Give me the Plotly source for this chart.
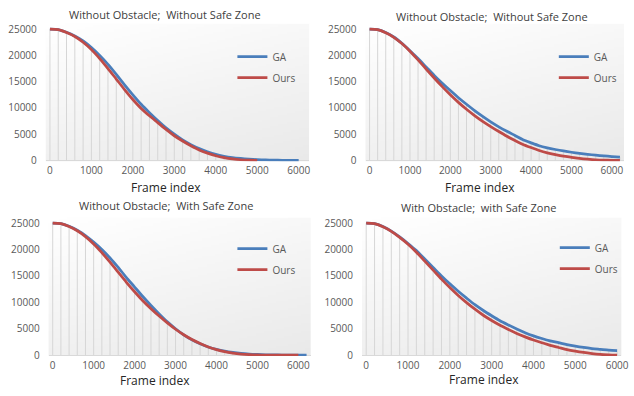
import base64, struct, zlib
import plotly.graph_objects as go

W, H = 634, 396

# ---------------- data ----------------
frames_6000 = list(range(0, 6001, 200))
frames_6200 = list(range(0, 6201, 200))
frames_5000 = list(range(0, 5001, 200))

titles = ["Without Obstacle;  Without Safe Zone",
          "Without Obstacle;  Without Safe Zone",
          "Without Obstacle;  With Safe Zone",
          "With Obstacle;  with Safe Zone"]
x_label = "Frame index"
series_names = ["GA", "Ours"]
x_ticks = [0, 1000, 2000, 3000, 4000, 5000, 6000]
y_ticks = [0, 5000, 10000, 15000, 20000, 25000]

# panel 1: top-left
p1_ga_x = frames_6000
p1_ga = [25000, 24900, 24400, 23700, 22750, 21500, 20000, 18300, 16400, 14400,
         12500, 10700, 9100, 7600, 6200, 5000, 3900, 3000, 2250, 1650,
         1150, 800, 550, 380, 250, 160, 100, 60, 30, 10, 0]
p1_ours_x = frames_5000
p1_ours = [25000, 24900, 24350, 23600, 22500, 21100, 19400, 17500, 15500, 13500,
           11600, 9900, 8500, 7200, 5900, 4700, 3700, 2800, 2000, 1400,
           900, 550, 300, 130, 40, 0]

# panel 2: top-right
p2_ga_x = frames_6200
p2_ga = [25000, 24900, 24350, 23500, 22300, 20900, 19400, 17800, 16200, 14700,
         13300, 11950, 10700, 9500, 8400, 7350, 6400, 5550, 4750, 3950,
         3350, 2800, 2400, 2080, 1800, 1560, 1350, 1170, 1000, 860, 740, 620]
p2_ours_x = frames_6200
p2_ours = [25000, 24900, 24300, 23450, 22250, 20800, 19150, 17400, 15700, 14050,
           12500, 11050, 9750, 8550, 7450, 6450, 5500, 4600, 3800, 3050,
           2450, 1900, 1450, 1100, 800, 600, 400, 250, 130, 60, 20, 0]

# panel 3: bottom-left
p3_ga_x = frames_6200
p3_ga = [25000, 24900, 24400, 23650, 22650, 21400, 20000, 18400, 16600, 14700,
         12900, 11100, 9400, 7800, 6300, 5000, 3850, 2900, 2150, 1550,
         1100, 750, 500, 320, 200, 120, 70, 40, 20, 10, 0, 0]
p3_ours_x = frames_6000
p3_ours = [25000, 24900, 24350, 23550, 22450, 21050, 19400, 17600, 15700, 13800,
           12000, 10300, 8800, 7400, 6100, 4900, 3850, 2950, 2200, 1550,
           1050, 650, 380, 200, 100, 40, 10, 0, 0, 0, 0]

# panel 4: bottom-right
p4_ga_x = frames_6000
p4_ga = [25000, 24900, 24350, 23500, 22400, 21150, 19800, 18200, 16600, 15000,
         13500, 12100, 10800, 9550, 8450, 7450, 6500, 5700, 4950, 4250,
         3650, 3150, 2700, 2350, 2000, 1700, 1450, 1250, 1100, 950, 850]
p4_ours_x = frames_6000
p4_ours = [25000, 24900, 24300, 23450, 22300, 21000, 19500, 17800, 16100, 14400,
           12800, 11300, 9950, 8700, 7550, 6550, 5650, 4850, 4100, 3450,
           2850, 2350, 1850, 1450, 1050, 750, 500, 300, 150, 60, 0]

panels = [
    (p1_ga_x, p1_ga, p1_ours_x, p1_ours),
    (p2_ga_x, p2_ga, p2_ours_x, p2_ours),
    (p3_ga_x, p3_ga, p3_ours_x, p3_ours),
    (p4_ga_x, p4_ga, p4_ours_x, p4_ours),
]

# ---------------- layout geometry (pixels) ----------------
geom = [
    dict(x0=50.5, x6=302.0, xr=[-100, 6250], y25=27.7, y0=161.7),
    dict(x0=373.7, x6=618.7, xr=[-100, 6300], y25=27.7, y0=161.7),
    dict(x0=53.3, x6=301.7, xr=[-100, 6300], y25=225.7, y0=360.4),
    dict(x0=370.3, x6=624.0, xr=[-100, 6100], y25=225.7, y0=360.4),
]
yr = [-150, 26000]
title_pos = [(167, 13), (497, 15), (168, 208), (484, 210)]
xlabel_pos = [(168, 189), (485, 189), (157, 386), (489, 385)]
legend_pos = [(235, 41), (560, 41), (235, 237), (561, 236)]

BLUE = "#4A7EBB"
RED = "#BE4B48"
DROP = "#D6D6D6"
FONT = "Open Sans"


def gradient_png(w=64, h=64):
    raw = b""
    for j in range(h):
        v = j / (h - 1)
        row = b"\x00"
        for i in range(w):
            u = i / (w - 1)
            g = int(round(255 - 15 * v - 7 * u))
            row += bytes([g, g, g])
        raw += row

    def chunk(tag, data):
        return (struct.pack(">I", len(data)) + tag + data +
                struct.pack(">I", zlib.crc32(tag + data) & 0xFFFFFFFF))

    png = (b"\x89PNG\r\n\x1a\n" +
           chunk(b"IHDR", struct.pack(">IIBBBBB", w, h, 8, 2, 0, 0, 0)) +
           chunk(b"IDAT", zlib.compress(raw, 9)) + chunk(b"IEND", b""))
    return "data:image/png;base64," + base64.b64encode(png).decode()


BG = gradient_png()

fig = go.Figure()
layout = dict(
    width=W, height=H, margin=dict(l=0, r=0, t=0, b=0),
    paper_bgcolor="white", plot_bgcolor="rgba(0,0,0,0)",
    font=dict(family=FONT, size=10, color="#595959"),
    annotations=[], images=[],
)

for k, (gx, gy, ox, oy) in enumerate(panels):
    g = geom[k]
    n = "" if k == 0 else str(k + 1)
    xa, ya = "x" + n, "y" + n
    leg = "legend" + n

    # drop lines from baseline to upper curve
    ours_map = dict(zip(ox, oy))
    dx, dy = [], []
    for f, v in zip(gx, gy):
        top = max(v, ours_map.get(f, 0))
        dx += [f, f, None]
        dy += [0, top, None]
    fig.add_trace(go.Scatter(x=dx, y=dy, mode="lines", xaxis=xa, yaxis=ya,
                             line=dict(color=DROP, width=1), showlegend=False,
                             hoverinfo="skip"))
    fig.add_trace(go.Scatter(x=gx, y=gy, mode="lines", name=series_names[0],
                             xaxis=xa, yaxis=ya, legend=leg, legendgroup="ga" + n,
                             line=dict(color=BLUE, width=2.75, shape="spline", smoothing=0.8)))
    fig.add_trace(go.Scatter(x=ox, y=oy, mode="lines", name=series_names[1],
                             xaxis=xa, yaxis=ya, legend=leg, legendgroup="ours" + n,
                             line=dict(color=RED, width=2.75, shape="spline", smoothing=0.8)))

    pxu = (g["x6"] - g["x0"]) / 6000.0
    left = g["x0"] + (g["xr"][0]) * pxu
    right = g["x0"] + (g["xr"][1]) * pxu
    pyu = (g["y0"] - g["y25"]) / 25000.0
    bottom = g["y0"] - yr[0] * pyu
    top = g["y0"] - yr[1] * pyu

    layout["xaxis" + n] = dict(
        domain=[left / W, right / W], range=g["xr"], anchor=ya,
        tickvals=x_ticks, ticktext=[str(v) for v in x_ticks],
        showgrid=False, zeroline=False, showline=False,
        ticks="", ticklabelstandoff=2, ticklabeloverflow="allow",
        tickfont=dict(size=10, color="#595959"))
    layout["yaxis" + n] = dict(
        domain=[1 - bottom / H, 1 - top / H], range=yr, anchor=xa,
        tickvals=y_ticks, ticktext=[str(v) for v in y_ticks],
        showgrid=False, zeroline=True, zerolinecolor="#D9D9D9",
        zerolinewidth=1, showline=False, ticks="", ticklabelstandoff=8,
        ticklabeloverflow="allow",
        tickfont=dict(size=10, color="#595959"))

    lx, ly = legend_pos[k]
    layout[leg] = dict(x=lx / W, y=1 - ly / H, xanchor="left", yanchor="top",
                       bgcolor="rgba(0,0,0,0)", font=dict(size=10, color="#595959"),
                       tracegroupgap=2)

    layout["images"].append(dict(source=BG, xref=xa + " domain", yref=ya + " domain",
                                 x=0, y=1, sizex=1, sizey=1, xanchor="left",
                                 yanchor="top", sizing="stretch", layer="below"))

    tx, ty = title_pos[k]
    layout["annotations"].append(dict(text=titles[k], xref="paper", yref="paper",
                                      x=tx / W, y=1 - ty / H, showarrow=False,
                                      xanchor="center", yanchor="middle",
                                      font=dict(size=11, color="#404040", family=FONT)))
    fx, fy = xlabel_pos[k]
    layout["annotations"].append(dict(text=x_label, xref="paper", yref="paper",
                                      x=fx / W, y=1 - fy / H, showarrow=False,
                                      xanchor="center", yanchor="middle",
                                      font=dict(size=12, color="#262626", family=FONT)))

fig.update_layout(**layout)
fig.write_html("out.html", config={"displayModeBar": False},
               post_script="document.body.style.margin='0';document.body.style.overflow='hidden';")
